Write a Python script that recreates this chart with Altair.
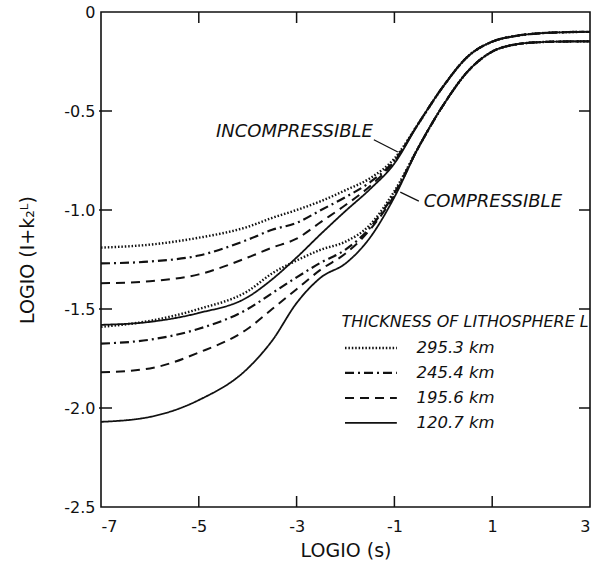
import altair as alt
import pandas as pd

# ---------------- data ----------------
LOG_S = [-7, -6, -5, -4, -3.5, -3, -2.5, -2, -1.5, -1, -0.5, 0, 0.5, 1, 1.5, 2, 2.5, 3]

THICKNESS = ["295.3  km", "245.4  km", "195.6  km", "120.7  km"]

# incompressible curves
INC_295 = [-1.19, -1.175, -1.14, -1.085, -1.04, -1.00, -0.955, -0.90, -0.84, -0.74, -0.56, -0.375, -0.225, -0.15, -0.12, -0.107, -0.102, -0.10]
INC_245 = [-1.27, -1.26, -1.23, -1.15, -1.10, -1.065, -1.00, -0.935, -0.86, -0.75, -0.56, -0.375, -0.225, -0.15, -0.12, -0.107, -0.102, -0.10]
INC_196 = [-1.37, -1.36, -1.325, -1.24, -1.19, -1.145, -1.06, -0.975, -0.88, -0.755, -0.56, -0.375, -0.225, -0.15, -0.12, -0.107, -0.102, -0.10]
INC_121 = [-1.58, -1.565, -1.52, -1.44, -1.35, -1.24, -1.12, -1.005, -0.895, -0.765, -0.56, -0.375, -0.225, -0.15, -0.12, -0.107, -0.102, -0.10]

# compressible curves
COMP_295 = [-1.59, -1.56, -1.50, -1.41, -1.32, -1.255, -1.20, -1.16, -1.075, -0.905, -0.68, -0.47, -0.30, -0.20, -0.163, -0.152, -0.149, -0.148]
COMP_245 = [-1.675, -1.655, -1.60, -1.50, -1.42, -1.34, -1.265, -1.20, -1.09, -0.915, -0.68, -0.47, -0.30, -0.20, -0.163, -0.152, -0.149, -0.148]
COMP_196 = [-1.82, -1.80, -1.72, -1.60, -1.50, -1.40, -1.30, -1.22, -1.10, -0.925, -0.68, -0.47, -0.30, -0.20, -0.163, -0.152, -0.149, -0.148]
COMP_121 = [-2.07, -2.045, -1.96, -1.80, -1.66, -1.47, -1.34, -1.27, -1.14, -0.935, -0.68, -0.47, -0.30, -0.20, -0.163, -0.152, -0.149, -0.148]

X_TICKS = [-7, -5, -3, -1, 1, 3]
Y_TICKS = [0, -0.5, -1.0, -1.5, -2.0, -2.5]
INNER_X_TICKS = [-5, -3, -1, 1]
INNER_Y_TICKS = [-0.5, -1.0, -1.5, -2.0]

ANNOT_TEXT = ["INCOMPRESSIBLE", "COMPRESSIBLE"]
LEGEND_TITLE = "THICKNESS OF LITHOSPHERE L"

# ---------------- build tables ----------------
curves = [
    ("inc", THICKNESS[0], INC_295), ("inc", THICKNESS[1], INC_245),
    ("inc", THICKNESS[2], INC_196), ("inc", THICKNESS[3], INC_121),
    ("comp", THICKNESS[0], COMP_295), ("comp", THICKNESS[1], COMP_245),
    ("comp", THICKNESS[2], COMP_196), ("comp", THICKNESS[3], COMP_121),
]
rows = []
for model, th, vals in curves:
    for x, y in zip(LOG_S, vals):
        rows.append({"curve": model + th, "thickness": th, "log_s": x, "log_k": y})
df = pd.DataFrame(rows)

# layout (data coordinates of legend / annotations)
W, H = 489, 495
LEG_X0, LEG_X1, LEG_XT = -2.01, -0.95, -0.55
LEG_Y0, LEG_DY = -1.697, 0.126
leg_df = pd.DataFrame({
    "thickness": THICKNESS,
    "x0": [LEG_X0] * 4,
    "x1": [LEG_X1] * 4,
    "xt": [LEG_XT] * 4,
    "y": [LEG_Y0 - i * LEG_DY for i in range(4)],
})
leg_title_df = pd.DataFrame({"t": [LEGEND_TITLE], "x": [-2.08], "y": [-1.566]})
annot_df = pd.DataFrame({"t": ANNOT_TEXT, "x": [-4.65, -0.40], "y": [-0.606, -0.962]})
pointer_df = pd.DataFrame({
    "x": [-1.42, -0.50], "x2": [-0.93, -0.88],
    "y": [-0.645, -0.955], "y2": [-0.707, -0.91],
})

DASHES = [[1.5, 1.9], [9, 4, 2, 4], [9, 6], [1, 0]]
WIDTHS = [2.4, 1.8, 1.8, 1.8]

xs = alt.Scale(domain=[-7, 3], nice=False, zero=False)
ys = alt.Scale(domain=[-2.5, 0], nice=False, zero=False)
dash_scale = alt.Scale(domain=THICKNESS, range=DASHES)
width_scale = alt.Scale(domain=THICKNESS, range=WIDTHS)

FONT = "DejaVu Sans"

x_axis = alt.Axis(
    values=X_TICKS, title="LOGIO (s)", ticks=False, domain=False, grid=False,
    labelExpr="(datum.value < 0 ? '-' : '') + format(abs(datum.value), 'd')",
    labelFontSize=16, labelPadding=11, labelColor="#111", labelFont=FONT,
    titleFontSize=19, titleFontWeight="normal", titleFont=FONT, titleColor="#111",
    titlePadding=7,
)
y_axis = alt.Axis(
    values=Y_TICKS, title="LOGIO (I+k₂ᴸ)", ticks=False, domain=False, grid=False,
    labelExpr="datum.value == 0 ? '0' : (datum.value < 0 ? '-' : '') + format(abs(datum.value), '.1f')",
    labelFontSize=16, labelPadding=6, labelColor="#111", labelFont=FONT,
    titleFontSize=19, titleFontWeight="normal", titleFont=FONT, titleColor="#111",
    titlePadding=26,
)

lines = alt.Chart(df).mark_line(
    color="#111", interpolate="monotone", strokeCap="butt"
).encode(
    x=alt.X("log_s:Q", scale=xs, axis=x_axis),
    y=alt.Y("log_k:Q", scale=ys, axis=y_axis),
    strokeDash=alt.StrokeDash("thickness:N", scale=dash_scale, legend=None),
    strokeWidth=alt.StrokeWidth("thickness:N", scale=width_scale, legend=None),
    detail="curve:N",
)

leg_lines = alt.Chart(leg_df).mark_rule(color="#111", strokeCap="butt").encode(
    x="x0:Q", x2="x1:Q", y="y:Q",
    strokeDash=alt.StrokeDash("thickness:N", scale=dash_scale, legend=None),
    strokeWidth=alt.StrokeWidth("thickness:N", scale=width_scale, legend=None),
)
leg_text = alt.Chart(leg_df).mark_text(
    align="left", baseline="middle", font=FONT, fontStyle="italic", fontSize=16.5, color="#111"
).encode(x="xt:Q", y="y:Q", text="thickness:N")
leg_title = alt.Chart(leg_title_df).mark_text(
    align="left", baseline="middle", font=FONT, fontStyle="italic", fontSize=16, color="#111"
).encode(x="x:Q", y="y:Q", text="t:N")

annot = alt.Chart(annot_df).mark_text(
    align="left", baseline="middle", font=FONT, fontStyle="italic", fontSize=18, color="#111"
).encode(x="x:Q", y="y:Q", text="t:N")
pointers = alt.Chart(pointer_df).mark_rule(color="#111", strokeWidth=1.3).encode(
    x="x:Q", x2="x2:Q", y="y:Q", y2="y2:Q"
)

tick_len = 11
tx = pd.DataFrame({"v": INNER_X_TICKS})
ty = pd.DataFrame({"v": INNER_Y_TICKS})
bottom_ticks = alt.Chart(tx).mark_rule(color="#111", strokeWidth=1.5).encode(
    x="v:Q", y=alt.value(H), y2=alt.value(H - tick_len))
top_ticks = alt.Chart(tx).mark_rule(color="#111", strokeWidth=1.5).encode(
    x="v:Q", y=alt.value(0), y2=alt.value(tick_len))
left_ticks = alt.Chart(ty).mark_rule(color="#111", strokeWidth=1.5).encode(
    y="v:Q", x=alt.value(-2), x2=alt.value(tick_len))
right_ticks = alt.Chart(ty).mark_rule(color="#111", strokeWidth=1.5).encode(
    y="v:Q", x=alt.value(W), x2=alt.value(W - tick_len))

chart = alt.layer(
    lines, leg_lines, leg_text, leg_title, annot, pointers,
    bottom_ticks, top_ticks, left_ticks, right_ticks,
).properties(
    width=W, height=H,
    autosize=alt.AutoSizeParams(type="none"),
    padding={"left": 101, "top": 12, "right": 10, "bottom": 61},
    background="white",
).configure_view(stroke="#111", strokeWidth=1.6)

chart.save("out.html", embed_options={"renderer": "svg", "actions": False})
